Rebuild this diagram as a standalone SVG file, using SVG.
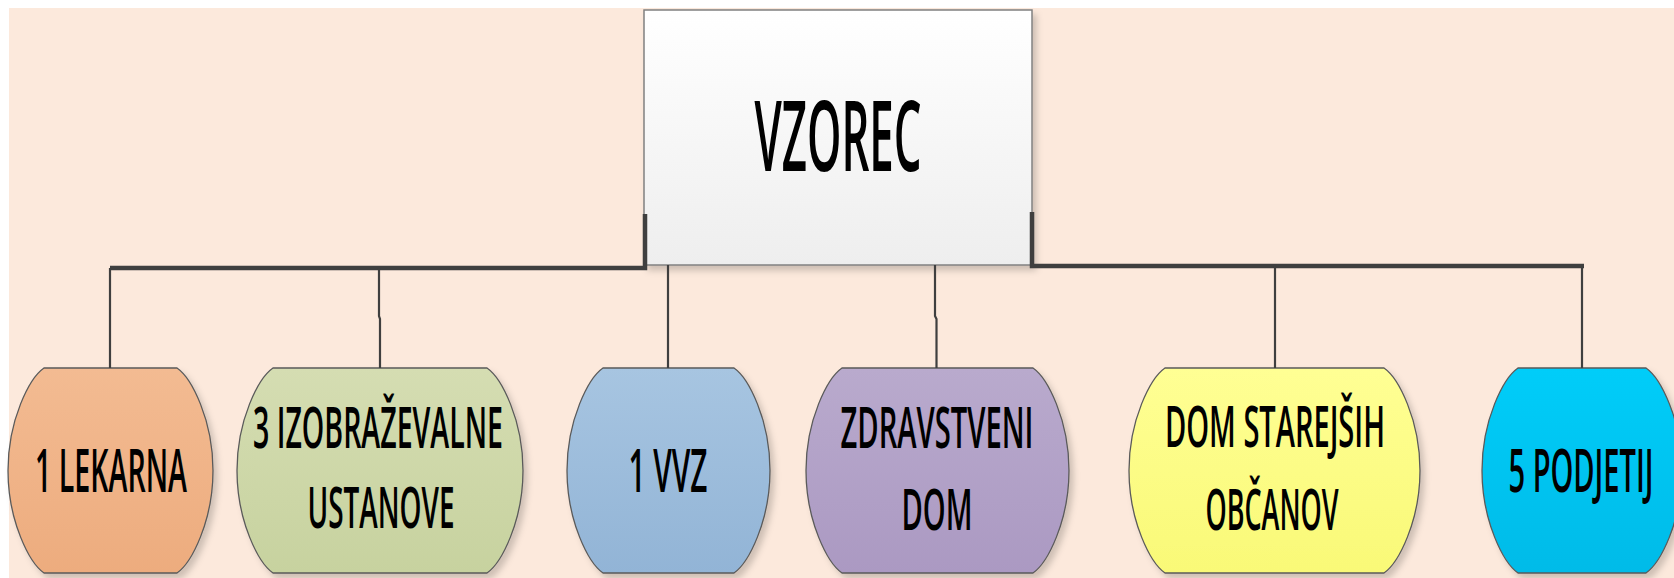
<svg xmlns="http://www.w3.org/2000/svg" width="1674" height="578" viewBox="0 0 1674 578">
<defs>
<filter id="sh" x="-10%" y="-10%" width="125%" height="125%">
<feDropShadow dx="4" dy="5" stdDeviation="3" flood-color="#000" flood-opacity="0.18"/>
</filter>
<linearGradient id="gBox" x1="0" y1="0" x2="0" y2="1"><stop offset="0" stop-color="#FFFFFF"/><stop offset="1" stop-color="#EEEEEE"/></linearGradient>
<linearGradient id="gOr" x1="0" y1="0" x2="0" y2="1"><stop offset="0" stop-color="#F3BB92"/><stop offset="1" stop-color="#EDAC7E"/></linearGradient>
<linearGradient id="gGr" x1="0" y1="0" x2="0" y2="1"><stop offset="0" stop-color="#D5DDB2"/><stop offset="1" stop-color="#C7D29F"/></linearGradient>
<linearGradient id="gBl" x1="0" y1="0" x2="0" y2="1"><stop offset="0" stop-color="#A7C5E1"/><stop offset="1" stop-color="#92B4D6"/></linearGradient>
<linearGradient id="gPu" x1="0" y1="0" x2="0" y2="1"><stop offset="0" stop-color="#B9AACD"/><stop offset="1" stop-color="#AB99C2"/></linearGradient>
<linearGradient id="gYe" x1="0" y1="0" x2="0" y2="1"><stop offset="0" stop-color="#FFFF94"/><stop offset="1" stop-color="#F9F977"/></linearGradient>
<linearGradient id="gCy" x1="0" y1="0" x2="0" y2="1"><stop offset="0" stop-color="#00CDF9"/><stop offset="1" stop-color="#00BBE8"/></linearGradient>
</defs>
<style>
.node{stroke:#5A5A5A;stroke-width:1.3;filter:url(#sh)}
.box{fill:url(#gBox);stroke:#808080;stroke-width:1.5;filter:url(#sh)}
.t{font-family:"Open Sans","Noto Sans","Liberation Sans",sans-serif;font-size:57px;font-weight:600;fill:#000;text-anchor:middle}
.t1{font-size:60px}
.tb{font-family:"Open Sans","Noto Sans","Liberation Sans",sans-serif;font-size:97px;font-weight:600;fill:#000;text-anchor:middle}
.thick{fill:none;stroke:#3F3F3F;stroke-width:4.5}
.thin{fill:none;stroke:#3F3F3F;stroke-width:2.2}
</style>
<rect x="0" y="0" width="1674" height="578" fill="#FFFFFF"/>
<rect x="9" y="8" width="1665" height="570" fill="#FCE9DC"/>

<g id="vzorec">
<rect class="box" x="644" y="10" width="388" height="255"/>
<text class="tb" transform="translate(838 171) scale(0.45 1)" textLength="371" lengthAdjust="spacingAndGlyphs">VZOREC</text>
</g>

<g id="lekarna">
<path class="node" fill="url(#gOr)" d="M44,368 H177 C191.4,378 213,419.5 213,470.5 C213,521.5 191.4,563 177,573 H44 C29.6,563 8,521.5 8,470.5 C8,419.5 29.6,378 44,368 Z"/>
<text class="t t1" transform="translate(111 492) scale(0.5 1)" textLength="304" lengthAdjust="spacingAndGlyphs">1 LEKARNA</text>
</g>

<g id="izobrazevalne">
<path class="node" fill="url(#gGr)" d="M273,368 H487 C501.4,378 523,419.5 523,470.5 C523,521.5 501.4,563 487,573 H273 C258.6,563 237,521.5 237,470.5 C237,419.5 258.6,378 273,368 Z"/>
<text class="t" transform="translate(378 448) scale(0.5 1)" textLength="500" lengthAdjust="spacingAndGlyphs">3 IZOBRAŽEVALNE</text>
<text class="t" transform="translate(381 528) scale(0.5 1)" textLength="294" lengthAdjust="spacingAndGlyphs">USTANOVE</text>
</g>

<g id="vvz">
<path class="node" fill="url(#gBl)" d="M603,368 H734 C748.4,378 770,419.5 770,470.5 C770,521.5 748.4,563 734,573 H603 C588.6,563 567,521.5 567,470.5 C567,419.5 588.6,378 603,368 Z"/>
<text class="t t1" transform="translate(668 492) scale(0.5 1)" textLength="158" lengthAdjust="spacingAndGlyphs">1 VVZ</text>
</g>

<g id="zdravstveni">
<path class="node" fill="url(#gPu)" d="M842,368 H1033 C1047.4,378 1069,419.5 1069,470.5 C1069,521.5 1047.4,563 1033,573 H842 C827.6,563 806,521.5 806,470.5 C806,419.5 827.6,378 842,368 Z"/>
<text class="t" transform="translate(937 448) scale(0.5 1)" textLength="386" lengthAdjust="spacingAndGlyphs">ZDRAVSTVENI</text>
<text class="t" transform="translate(937 530) scale(0.5 1)" textLength="142" lengthAdjust="spacingAndGlyphs">DOM</text>
</g>

<g id="starejsih">
<path class="node" fill="url(#gYe)" d="M1165,368 H1384 C1398.4,378 1420,419.5 1420,470.5 C1420,521.5 1398.4,563 1384,573 H1165 C1150.6,563 1129,521.5 1129,470.5 C1129,419.5 1150.6,378 1165,368 Z"/>
<text class="t" transform="translate(1275 447) scale(0.5 1)" textLength="440" lengthAdjust="spacingAndGlyphs">DOM STAREJŠIH</text>
<text class="t" transform="translate(1272 530) scale(0.5 1)" textLength="266" lengthAdjust="spacingAndGlyphs">OBČANOV</text>
</g>

<g id="podjetij">
<path class="node" fill="url(#gCy)" d="M1518,368 H1646 C1660.4,378 1682,419.5 1682,470.5 C1682,521.5 1660.4,563 1646,573 H1518 C1503.6,563 1482,521.5 1482,470.5 C1482,419.5 1503.6,378 1518,368 Z"/>
<text class="t t1" transform="translate(1581 492) scale(0.5 1)" textLength="290" lengthAdjust="spacingAndGlyphs">5 PODJETIJ</text>
</g>

<g id="connectors">
<path class="thick" d="M645,214 V268 H110"/>
<path class="thick" d="M1032,212 V266 H1584"/>
<path class="thin" d="M110,268 V368"/>
<path class="thin" d="M379,268 V316 L380,319 V368"/>
<path class="thin" d="M668,265 V368"/>
<path class="thin" d="M935,265 V316 L936.5,319 V368"/>
<path class="thin" d="M1275,266 V368"/>
<path class="thin" d="M1582,266 V368"/>
</g>
</svg>
